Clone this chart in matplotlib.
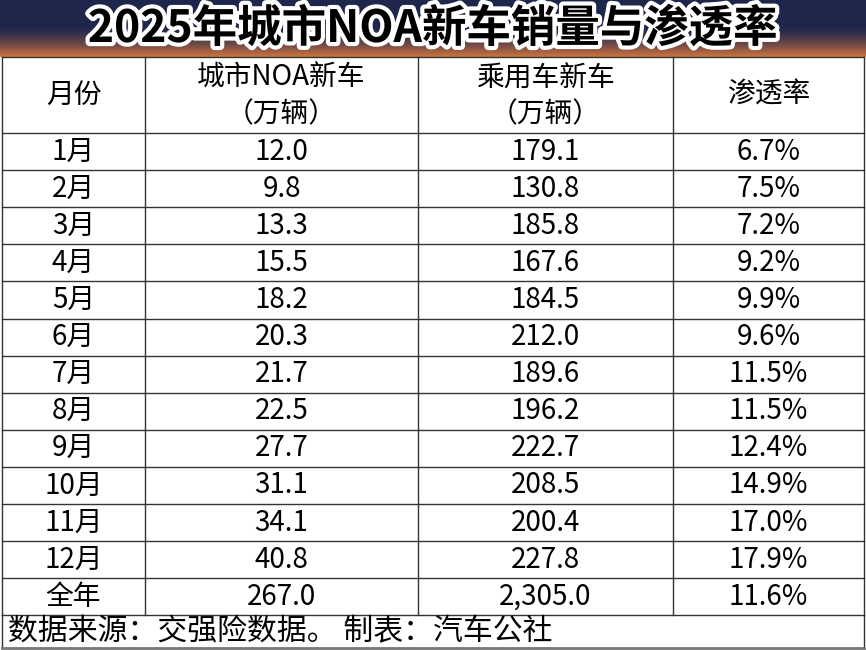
import matplotlib.pyplot as plt
import matplotlib.patheffects as pe
import numpy as np

plt.rcParams['font.family'] = ['Noto Sans CJK SC', 'DejaVu Sans']

months = ['1月', '2月', '3月', '4月', '5月', '6月', '7月', '8月', '9月', '10月', '11月', '12月', '全年']
noa = ['12.0', '9.8', '13.3', '15.5', '18.2', '20.3', '21.7', '22.5', '27.7', '31.1', '34.1', '40.8', '267.0']
cars = ['179.1', '130.8', '185.8', '167.6', '184.5', '212.0', '189.6', '196.2', '222.7', '208.5', '200.4', '227.8', '2,305.0']
rates = ['6.7%', '7.5%', '7.2%', '9.2%', '9.9%', '9.6%', '11.5%', '11.5%', '12.4%', '14.9%', '17.0%', '17.9%', '11.6%']

W, H = 866, 650
fig = plt.figure(figsize=(8.66, 6.5), dpi=100)
ax = fig.add_axes([0, 0, 1, 1])
ax.set_xlim(0, W)
ax.set_ylim(H, 0)
ax.axis('off')

# title banner gradient: navy -> orange at bottom
t = np.linspace(0, 1, 60)[:, None]
navy = np.array([0.12, 0.15, 0.30])
orange = np.array([0.80, 0.45, 0.25])
mix = np.clip((t - 0.45) / 0.55, 0, 1) ** 1.5
grad = navy * (1 - mix[..., None]) + orange * mix[..., None]
grad = np.repeat(grad, 2, axis=1)
ax.imshow(grad, extent=[0, W, 57, 0], aspect='auto', zorder=0)
ax.text(W / 2, 29, '2025年城市NOA新车销量与渗透率', ha='center', va='center',
        fontsize=32, fontweight='black', color='black',
        path_effects=[pe.withStroke(linewidth=6, foreground='white')])

cols = [2, 145, 418, 673, 864]
centers = [(cols[i] + cols[i + 1]) / 2 for i in range(4)]
top, head_bot, row_h = 57, 133, 37.1
bottom = head_bot + row_h * len(months)
lc = '#333333'

# borders
for x in cols:
    ax.plot([x, x], [top, bottom], color=lc, lw=1)
ax.plot([2, 2], [bottom, 648], color=lc, lw=1)
ax.plot([864, 864], [bottom, 648], color=lc, lw=1)
ax.plot([2, 864], [648, 648], color='#777777', lw=2)
for y in [top, head_bot] + [head_bot + row_h * (i + 1) for i in range(len(months))]:
    ax.plot([2, 864], [y, y], color=lc, lw=1)

fs = 20
ax.text(centers[0], 95, '月份', ha='center', va='center', fontsize=fs)
ax.text(centers[1], 96, '城市NOA新车\n（万辆）', ha='center', va='center', fontsize=fs, linespacing=1.25)
ax.text(centers[2], 96, '乘用车新车\n（万辆）', ha='center', va='center', fontsize=fs, linespacing=1.25)
ax.text(centers[3], 95, '渗透率', ha='center', va='center', fontsize=fs)

for i, row in enumerate(zip(months, noa, cars, rates)):
    y = head_bot + row_h * (i + 0.5)
    for c, val in zip(centers, row):
        ax.text(c, y, val, ha='center', va='center', fontsize=fs)

ax.text(8, (bottom + 648) / 2, '数据来源：交强险数据。 制表：汽车公社', ha='left', va='center', fontsize=21.5)

fig.savefig('out.png', dpi=100)
